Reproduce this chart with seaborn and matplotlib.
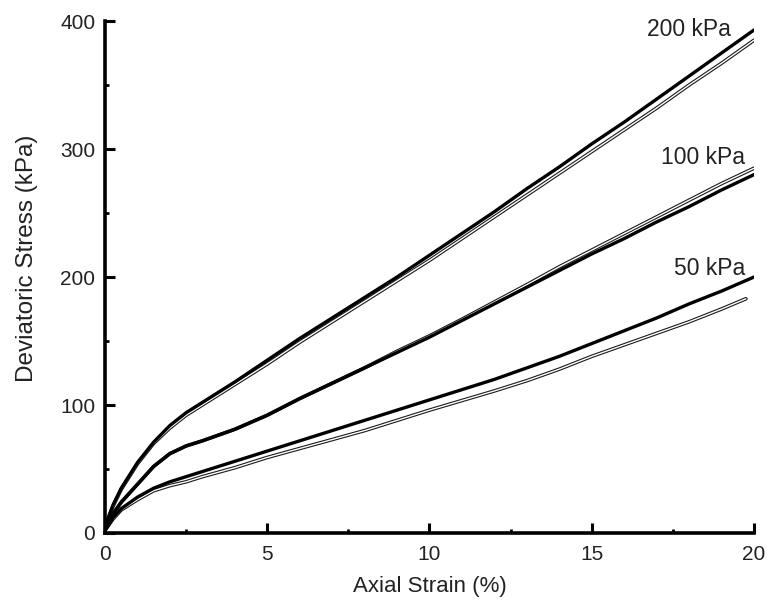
import numpy as np
import pandas as pd
import matplotlib
matplotlib.use("Agg")
import matplotlib.pyplot as plt
import seaborn as sns

# ---- data ----
strain = [0, 0.25, 0.5, 1, 1.5, 2, 2.5, 3, 4, 5, 6, 7, 8, 9, 10, 11, 12, 13, 14, 15, 16, 17, 18, 19, 20]

exp_200 = [5, 22, 35, 55, 71, 84, 94, 102, 118, 135, 152, 168, 184, 200, 217, 234, 251, 269, 286, 304, 321, 339, 357, 375, 393]
mod_200 = [5, 21, 34, 54, 70, 82, 92, 100, 116, 132, 149, 165, 181, 197, 213, 230, 247, 264, 281, 298, 315, 332, 350, 367, 385]

exp_100 = [3, 15, 24, 38, 52, 62, 68, 72, 81, 92, 105, 117, 129, 141, 153, 166, 179, 192, 205, 218, 230, 243, 255, 268, 280]
mod_100 = [3, 15, 24, 38, 52, 62, 68, 72, 81, 92, 105, 117, 129, 142, 154, 167, 180.5, 194, 208, 221, 234, 247, 260, 273, 285]

exp_50 = [2, 12, 19, 28, 35, 40, 44, 48, 56, 64, 72, 80, 88, 96, 104, 112, 120, 129, 138, 148, 158, 168, 179, 189, 200]
strain_mod50 = [0, 0.25, 0.5, 1, 1.5, 2, 2.5, 3, 4, 5, 6, 7, 8, 9, 10, 11, 12, 13, 14, 15, 16, 17, 18, 19, 19.75]
mod_50 = [2, 11, 18, 26, 33, 37, 40, 44, 51, 59, 66, 73, 80, 88, 96, 103.5, 111, 119, 128, 138, 147, 156, 165, 175, 183]

labels = ["200 kPa", "100 kPa", "50 kPa"]
label_x = [19.3, 19.72, 19.72]
label_y = [393, 293, 207]

# ---- figure ----
sns.set_style("white")
plt.rcParams['font.family'] = ['Liberation Sans', 'DejaVu Sans']

fig = plt.figure(figsize=(7.69, 6.09), dpi=100)
ax = fig.add_axes([0.1365, 0.1248, 0.844, 0.8407])

def hollow(x, y):
    df = pd.DataFrame({"x": x, "y": y})
    sns.lineplot(data=df, x="x", y="y", ax=ax, color="#1a1a1a", lw=2.6,
                 estimator=None, sort=False, zorder=3)
    sns.lineplot(data=df, x="x", y="y", ax=ax, color="white", lw=1.0,
                 estimator=None, sort=False, zorder=4)

def solid(x, y):
    df = pd.DataFrame({"x": x, "y": y})
    sns.lineplot(data=df, x="x", y="y", ax=ax, color="black", lw=2.4,
                 estimator=None, sort=False, zorder=5)

hollow(strain, mod_200)
hollow(strain, mod_100)
hollow(strain_mod50, mod_50)
solid(strain, exp_200)
solid(strain, exp_100)
solid(strain, exp_50)

for t, lx, ly in zip(labels, label_x, label_y):
    ax.text(lx, ly, t, ha="right", va="center", fontsize=16.5, color="#222222")

ax.set_xlim(0, 20)
ax.set_ylim(0, 400)
ax.set_xticks([0, 5, 10, 15, 20])
ax.set_yticks([0, 100, 200, 300, 400])
ax.set_xticks([2.5, 7.5, 12.5, 17.5], minor=True)
ax.set_yticks([50, 150, 250, 350], minor=True)
ax.tick_params(which="both", bottom=True, left=True, top=False, right=False)
ax.tick_params(which="major", direction="in", length=7, width=2.2,
               labelsize=15, labelcolor="#222222", pad=7, color="black")
ax.tick_params(which="minor", direction="in", length=3, width=2, color="black")
ax.tick_params(axis="x", which="major", pad=9)

for s in ["top", "right"]:
    ax.spines[s].set_visible(False)
for s in ["left", "bottom"]:
    ax.spines[s].set_linewidth(2.6)
    ax.spines[s].set_color("black")

ax.set_xlabel("Axial Strain (%)", fontsize=16, color="#222222", labelpad=8)
ax.set_ylabel("Deviatoric Stress (kPa)", fontsize=17.5, color="#222222")
ax.yaxis.set_label_coords(-0.103, 0.537)

fig.savefig("out.png", dpi=100)
